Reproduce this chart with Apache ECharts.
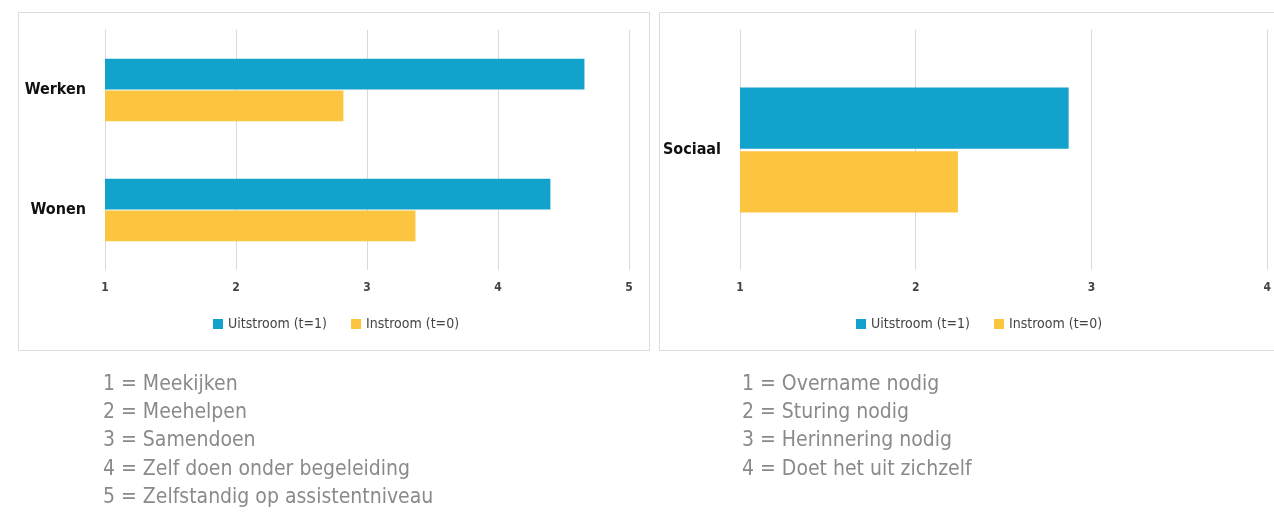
<!DOCTYPE html>
<html>
<head>
<meta charset="utf-8">
<script src="https://cdn.jsdelivr.net/npm/echarts@6/dist/echarts.min.js"></script>
<style>
  html, body { margin: 0; padding: 0; background: #fff; }
  #chart { width: 1274px; height: 512px; }
</style>
</head>
<body>
<div id="chart"></div>
<script>
const seriesNames = ['Uitstroom (t=1)', 'Instroom (t=0)'];

const leftCategories = ['Werken', 'Wonen'];
const leftUitstroom = [4.66, 4.40];
const leftInstroom = [2.82, 3.37];
const leftTicks = [1, 5];

const rightCategories = ['Sociaal'];
const rightUitstroom = [2.87];
const rightInstroom = [2.24];
const rightTicks = [1, 4];

const leftNotes = [
  '1 = Meekijken',
  '2 = Meehelpen',
  '3 = Samendoen',
  '4 = Zelf doen onder begeleiding',
  '5 = Zelfstandig op assistentniveau',
];
const rightNotes = [
  '1 = Overname nodig',
  '2 = Sturing nodig',
  '3 = Herinnering nodig',
  '4 = Doet het uit zichzelf',
];

const font = "'Liberation Sans Narrow', 'DejaVu Sans Condensed', 'Noto Sans', sans-serif";
const blue = '#12a2cc';
const yellow = '#fcc53f';

const chart = echarts.init(document.getElementById('chart'));

const xAxisFor = (gridIndex, ticks) => ({
  type: 'value',
  gridIndex,
  min: ticks[0],
  max: ticks[1],
  interval: 1,
  axisLine: { show: false },
  axisTick: { show: false },
  splitLine: { lineStyle: { color: '#d9d9d9', width: 1 } },
  axisLabel: {
    margin: 12,
    fontFamily: font,
    fontSize: 12,
    fontWeight: 'bold',
    color: '#444',
  },
});

const yAxisFor = (gridIndex, cats) => ({
  type: 'category',
  gridIndex,
  data: cats,
  inverse: true,
  axisLine: { show: false },
  axisTick: { show: false },
  axisLabel: {
    margin: 19,
    fontFamily: font,
    fontSize: 16,
    fontWeight: 'bold',
    color: '#111',
  },
});

const barFor = (name, data, color, axisIndex) => ({
  name,
  type: 'bar',
  xAxisIndex: axisIndex,
  yAxisIndex: axisIndex,
  data,
  barGap: '4%',
  barCategoryGap: '48%',
  itemStyle: { color },
  silent: true,
});

const legendFor = (left) => ({
  data: seriesNames,
  left,
  top: 312,
  itemWidth: 10,
  itemHeight: 10,
  itemGap: 24,
  icon: 'rect',
  textStyle: { fontFamily: font, fontSize: 14, color: '#444' },
});

const noteText = (x, lines) => lines.map((t, i) => ({
  type: 'text',
  left: x,
  top: 374 + i * 28.2,
  style: { text: t, fontFamily: font, fontSize: 21, fill: '#8a8a8a' },
}));

const option = {
  animation: false,
  grid: [
    { left: 105, width: 524, top: 30, height: 240 },
    { left: 740, width: 531, top: 30, height: 240 },
  ],
  xAxis: [xAxisFor(0, leftTicks), xAxisFor(1, rightTicks)],
  yAxis: [yAxisFor(0, leftCategories), yAxisFor(1, rightCategories)],
  legend: [legendFor(208), legendFor(851)],
  series: [
    barFor(seriesNames[0], leftUitstroom, blue, 0),
    barFor(seriesNames[1], leftInstroom, yellow, 0),
    barFor(seriesNames[0], rightUitstroom, blue, 1),
    barFor(seriesNames[1], rightInstroom, yellow, 1),
  ],
  graphic: [
    {
      type: 'rect',
      shape: { x: 18.5, y: 12.5, width: 631, height: 338 },
      style: { fill: 'none', stroke: '#dcdcdc', lineWidth: 1 },
      z: -1,
    },
    {
      type: 'rect',
      shape: { x: 659.5, y: 12.5, width: 640, height: 338 },
      style: { fill: 'none', stroke: '#dcdcdc', lineWidth: 1 },
      z: -1,
    },
    ...noteText(103, leftNotes),
    ...noteText(742, rightNotes),
  ],
};

chart.setOption(option);
</script>
</body>
</html>
